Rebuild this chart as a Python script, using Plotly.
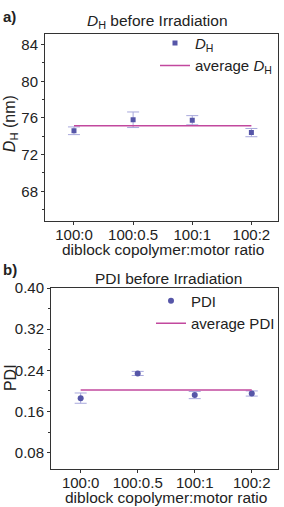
import numpy as np
import plotly.graph_objects as go

categories = ["100:0", "100:0.5", "100:1", "100:2"]
dh_values = [74.6, 75.8, 75.75, 74.4]
dh_errors = [0.42, 0.85, 0.5, 0.45]
pdi_values = [0.186, 0.234, 0.192, 0.195]
pdi_errors = [0.010, 0.004, 0.007, 0.005]
dh_ticks = [68, 72, 76, 80, 84]
pdi_ticks = [0.08, 0.16, 0.24, 0.32, 0.40]

W, H = 284, 507
MARK = "#5656a8"
ERR = "#a8a8dc"
AVG = "#c2489e"
FONT = "Liberation Sans, Arial, sans-serif"
TXT = "#222"

def px(x):
    return x / W

def py(y):
    return 1 - y / H

fig = go.Figure()

fig.add_trace(go.Scatter(
    x=categories, y=dh_values, mode="markers",
    marker=dict(symbol="square", size=5, color=MARK),
    error_y=dict(type="data", array=dh_errors, color=ERR, thickness=1, width=6),
    name="<i>D</i><sub>H</sub>", xaxis="x", yaxis="y", legend="legend"))
fig.add_trace(go.Scatter(
    x=categories, y=[float(np.mean(dh_values))] * len(categories), mode="lines",
    line=dict(color=AVG, width=1.5),
    name="average <i>D</i><sub>H</sub>", xaxis="x", yaxis="y", legend="legend"))

fig.add_trace(go.Scatter(
    x=categories, y=pdi_values, mode="markers",
    marker=dict(symbol="circle", size=6, color=MARK),
    error_y=dict(type="data", array=pdi_errors, color=ERR, thickness=1, width=6),
    name="PDI", xaxis="x2", yaxis="y2", legend="legend2"))
fig.add_trace(go.Scatter(
    x=categories, y=[float(np.mean(pdi_values))] * len(categories), mode="lines",
    line=dict(color=AVG, width=1.5),
    name="average PDI", xaxis="x2", yaxis="y2", legend="legend2"))

axis_common = dict(showline=True, linecolor="#333", linewidth=1, mirror=True,
                   ticks="outside", ticklen=3, tickcolor="#333", showgrid=False,
                   zeroline=False, tickfont=dict(family=FONT, size=15, color=TXT))

fig.update_layout(
    width=W, height=H, margin=dict(l=0, r=0, t=0, b=0),
    paper_bgcolor="white", plot_bgcolor="white",
    font=dict(family=FONT, size=15, color=TXT),
    xaxis=dict(domain=[px(45), px(278)], anchor="y", type="category",
               range=[-0.49, 3.45], ticklabelstandoff=-3, **axis_common),
    yaxis=dict(domain=[py(216), py(26)], anchor="x", range=[64.8, 85.2],
               tickvals=dh_ticks, minor=dict(ticks="outside", ticklen=2, dtick=2, tickcolor="#333"),
               **axis_common),
    xaxis2=dict(domain=[px(51), px(278)], anchor="y2", type="category",
                range=[-0.52, 3.46], ticklabelstandoff=-3, **axis_common),
    yaxis2=dict(domain=[py(468), py(284)], anchor="x2", range=[0.049, 0.401],
                tickvals=pdi_ticks, tickformat=".2f",
                minor=dict(ticks="outside", ticklen=2, dtick=0.04, tickcolor="#333"),
                **axis_common),
    legend=dict(x=px(155), y=py(19), xanchor="left", yanchor="top",
                bgcolor="rgba(0,0,0,0)", font=dict(family=FONT, size=15, color=TXT),
                tracegroupgap=0, itemwidth=30),
    legend2=dict(x=px(151), y=py(281), xanchor="left", yanchor="top",
                 bgcolor="rgba(0,0,0,0)", font=dict(family=FONT, size=15, color=TXT),
                 tracegroupgap=0, itemwidth=30),
    showlegend=True,
)

ann = [
    dict(text="<b>a)</b>", x=px(1), y=py(9), xanchor="left", yanchor="middle", size=15),
    dict(text="<b>b)</b>", x=px(1), y=py(266), xanchor="left", yanchor="middle", size=15),
    dict(text="<i>D</i><sub>H</sub> before Irradiation", x=px(157), y=py(14),
         xanchor="center", yanchor="middle", size=15.5),
    dict(text="PDI before Irradiation", x=px(168), y=py(275),
         xanchor="center", yanchor="middle", size=15.5),
    dict(text="diblock copolymer:motor ratio", x=px(163), y=py(245),
         xanchor="center", yanchor="middle", size=15.5),
    dict(text="diblock copolymer:motor ratio", x=px(166), y=py(497),
         xanchor="center", yanchor="middle", size=15.5),
]
for a in ann:
    fig.add_annotation(text=a["text"], x=a["x"], y=a["y"], xref="paper", yref="paper",
                       xanchor=a["xanchor"], yanchor=a["yanchor"], showarrow=False,
                       font=dict(family=FONT, size=a["size"], color=TXT))

fig.add_annotation(text="<i>D</i><sub>H</sub> (nm)", x=px(10), y=py(118), xref="paper", yref="paper",
                   textangle=-90, showarrow=False, xanchor="center", yanchor="middle",
                   font=dict(family=FONT, size=16, color=TXT))
fig.add_annotation(text="PDI", x=px(10), y=py(376), xref="paper", yref="paper",
                   textangle=-90, showarrow=False, xanchor="center", yanchor="middle",
                   font=dict(family=FONT, size=16, color=TXT))

post = ("document.body.style.margin='0';document.body.style.overflow='hidden';"
        "var d=document.getElementById('{plot_id}');d.style.position='absolute';"
        "d.style.top='0px';d.style.left='0px';")
fig.write_html("out.html", config={"displayModeBar": False}, post_script=post)
